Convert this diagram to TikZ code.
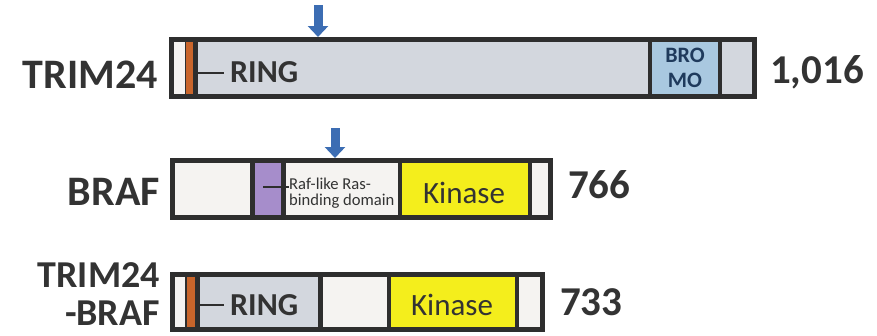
\documentclass[tikz,border=0pt]{standalone}
\usepackage{fontspec}
\setmainfont{Carlito}
\usepackage{xcolor}
\usetikzlibrary{calc}
\usetikzlibrary{arrows.meta}

\definecolor{ringgray}{HTML}{D3D7DE}
\definecolor{bromoblue}{HTML}{A9C8E0}
\definecolor{ringorange}{HTML}{C9652B}
\definecolor{rbdpurple}{HTML}{A68DCB}
\definecolor{kinaseyellow}{HTML}{F4EE1C}
\definecolor{plainwhite}{HTML}{F5F3F1}
\definecolor{edgegray}{HTML}{2E2E2E}
\definecolor{mutblue}{HTML}{3C6DB3}
\definecolor{labelgray}{HTML}{333333}
\definecolor{bromotext}{HTML}{1F3A5C}

\begin{document}
\begin{tikzpicture}[x = 1pt, y = -1pt]

\tikzstyle{bar_edge}=[draw = edgegray, line width = 5pt]
\tikzstyle{divider}=[draw = edgegray, line width = 4.5pt]
\tikzstyle{thin_divider}=[draw = edgegray, line width = 1.5pt]
\tikzstyle{tick_line}=[draw = edgegray, line width = 2pt]
\tikzstyle{protein}=[font = \fontsize{42}{38}\selectfont\bfseries, text = labelgray, inner sep = 0, align = right]
\tikzstyle{aa_count}=[font = \fontsize{41}{41}\selectfont\bfseries, text = labelgray, inner sep = 0]
\tikzstyle{dom_bold}=[font = \fontsize{32}{32}\selectfont\bfseries, text = labelgray, inner sep = 0, inner xsep = 6pt]
\tikzstyle{dom_kinase}=[font = \fontsize{31}{31}\selectfont, text = labelgray, inner sep = 0]
\tikzstyle{mut_arrow}=[draw = mutblue, line width = 9pt, -{Triangle[length = 11pt, width = 20pt]}]

\useasboundingbox (0, 0) rectangle (877, 335);

\coordinate (A1) at (318, 5);
\coordinate (A1t) at (318, 37);
\coordinate (A2) at (335, 128);
\coordinate (A2t) at (335, 158);
\coordinate (r1) at (197, 73);
\coordinate (b1) at (263, 187);
\coordinate (r3) at (199, 305);

% TRIM24 bar
\fill[plainwhite] (169, 37) rectangle (186, 99);
\fill[ringorange] (186, 37) rectangle (195, 99);
\fill[ringgray] (195, 37) rectangle (650, 99);
\fill[bromoblue] (650, 37) rectangle (720, 99);
\fill[ringgray] (720, 37) rectangle (757, 99);
\draw[thin_divider] (185.5, 37) -- (185.5, 99);
\draw[divider] (195.5, 37) -- (195.5, 99);
\draw[divider] (650, 37) -- (650, 99);
\draw[divider] (720, 37) -- (720, 99);
\draw[bar_edge] (171.5, 39.5) rectangle (754.5, 96.5);

% BRAF bar
\fill[plainwhite] (170, 158) rectangle (553, 220);
\fill[rbdpurple] (252, 158) rectangle (283, 220);
\fill[kinaseyellow] (400, 158) rectangle (530, 220);
\draw[divider] (252.5, 158) -- (252.5, 220);
\draw[divider] (283.5, 158) -- (283.5, 220);
\draw[divider] (400, 158) -- (400, 220);
\draw[divider] (530, 158) -- (530, 220);
\draw[bar_edge] (172.5, 160.5) rectangle (550.5, 217.5);

% TRIM24-BRAF bar
\fill[plainwhite] (170, 272) rectangle (545, 332);
\fill[ringorange] (186, 272) rectangle (196, 332);
\fill[ringgray] (197, 272) rectangle (320, 332);
\fill[kinaseyellow] (389, 272) rectangle (517, 332);
\draw[thin_divider] (186, 272) -- (186, 332);
\draw[divider] (197.5, 272) -- (197.5, 332);
\draw[divider] (320.5, 272) -- (320.5, 332);
\draw[divider] (389, 272) -- (389, 332);
\draw[divider] (517, 272) -- (517, 332);
\draw[bar_edge] (172.5, 274.5) rectangle (542.5, 329.5);

\path
(158, 88) node[protein, anchor = base east](trim) {TRIM24}
(160, 205) node[protein, anchor = base east](braf) {BRAF}
(160, 262) node[protein, anchor = north east, font = \fontsize{38}{38}\selectfont\bfseries](fusion) {TRIM24\\-BRAF}
(770, 83) node[aa_count, anchor = base west](n_trim) {1,016}
(568, 198) node[aa_count, anchor = base west](n_braf) {766}
(560, 315) node[aa_count, anchor = base west](n_fusion) {733};

\path
(224, 82) node[dom_bold, anchor = base west](ring1) {RING}
(685, 68) node[font = \fontsize{22}{25}\selectfont\bfseries, text = bromotext, align = center, inner sep = 0](bromo) {BRO\\MO}
(289, 178) node[font = \fontsize{16.6}{15.5}\selectfont, text = labelgray, align = left, inner sep = 0, anchor = north west](rbd) {Raf-like Ras-\\binding domain}
(464, 203) node[dom_kinase, anchor = base](kin1) {Kinase}
(224, 315) node[dom_bold, anchor = base west](ring3) {RING}
(452, 315) node[dom_kinase, anchor = base](kin3) {Kinase};

% tick lines
\draw[tick_line] (r1) -- (ring1.west |- r1);
\draw[tick_line] (b1) -- (rbd.west |- b1);
\draw[tick_line] (r3) -- (ring3.west |- r3);

% arrows
\draw[mut_arrow] (A1) -- (A1t);
\draw[mut_arrow] (A2) -- (A2t);

\end{tikzpicture}
\end{document}
